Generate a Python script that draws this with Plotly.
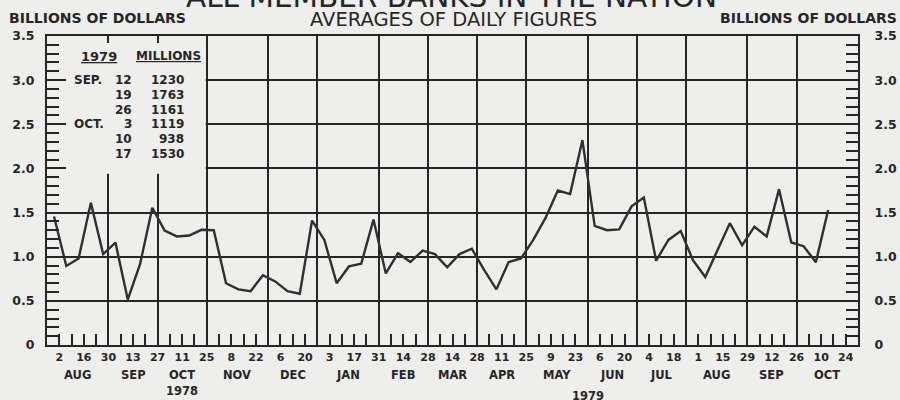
import pandas as pd
import plotly.graph_objects as go

# ---------------- data ----------------
# weekly statement dates (week ending Wednesday)
week_ending = pd.date_range("1978-08-02", "1979-10-17", freq="7D")
values = [
    1.455, 0.895, 0.98, 1.61, 1.03, 1.16, 0.515, 0.915, 1.555, 1.295,   # Aug 2 - Oct 4 1978
    1.23, 1.24, 1.305, 1.30, 0.70, 0.63, 0.61, 0.79, 0.72, 0.61,        # Oct 11 - Dec 13
    0.58, 1.41, 1.19, 0.70, 0.89, 0.92, 1.42, 0.81, 1.04, 0.94,         # Dec 20 - Feb 21 1979
    1.07, 1.03, 0.88, 1.03, 1.09, 0.85, 0.63, 0.94, 0.98, 1.19,         # Feb 28 - May 2
    1.44, 1.75, 1.71, 2.32, 1.35, 1.30, 1.31, 1.57, 1.67, 0.955,        # May 9 - Jul 11
    1.19, 1.29, 0.96, 0.77, 1.075, 1.38, 1.13, 1.34, 1.230, 1.763,      # Jul 18 - Sep 19
    1.161, 1.119, 0.938, 1.530,                                         # Sep 26 - Oct 17
]

# axis ticks (Wednesdays), labelled every two weeks
tick_dates = pd.date_range("1978-08-02", "1979-10-24", freq="7D")
day_labels = ["2", "16", "30", "13", "27", "11", "25", "8", "22", "6", "20", "3", "17", "31",
              "14", "28", "14", "28", "11", "25", "9", "23", "6", "20", "4", "18", "1", "15",
              "29", "12", "26", "10", "24"]
# month blocks end on the last Wednesday of each month
month_bounds = ["1978-07-26", "1978-08-30", "1978-09-27", "1978-10-25", "1978-11-29",
                "1978-12-27", "1979-01-31", "1979-02-28", "1979-03-28", "1979-04-25",
                "1979-05-30", "1979-06-27", "1979-07-25", "1979-08-29", "1979-09-26",
                "1979-10-31"]
month_names = ["AUG", "SEP", "OCT", "NOV", "DEC", "JAN", "FEB", "MAR", "APR", "MAY",
               "JUN", "JUL", "AUG", "SEP", "OCT"]
years = ["1978", "1979"]
year_dates = ["1978-10-11", "1979-05-30"]

y_ticks = [0, 0.5, 1.0, 1.5, 2.0, 2.5, 3.0, 3.5]
y_labels = ["0", "0.5", "1.0", "1.5", "2.0", "2.5", "3.0", "3.5"]

legend_months = ["SEP.", "", "", "OCT.", "", ""]
legend_days = ["12", "19", "26", "3", "10", "17"]
legend_millions = ["1230", "1763", "1161", "1119", "938", "1530"]

# ---------------- styling ----------------
BG = "#eeeeec"
INK = "#262626"
FONT = "DejaVu Sans"

mb = pd.to_datetime(month_bounds)
grid_dates = mb[1:-1]
month_centers = [mb[i] + (mb[i + 1] - mb[i]) / 2 for i in range(len(month_names))]
plot_x = week_ending - pd.Timedelta(days=3)   # points plotted at mid-week

tick_text = []
for i in range(len(tick_dates)):
    tick_text.append(day_labels[i // 2] if i % 2 == 0 else "")

xr = [mb[0], mb[-1]]

fig = go.Figure()
fig.add_trace(go.Scatter(x=plot_x, y=values, mode="lines",
                         line=dict(color="#303030", width=2.4), hoverinfo="skip",
                         showlegend=False))
# empty trace so the overlaid tick axes (x2 / y2) get drawn
fig.add_trace(go.Scatter(x=[], y=[], xaxis="x2", yaxis="y2", showlegend=False,
                         hoverinfo="skip"))

small = dict(family=FONT, size=11, color=INK, weight="bold")

fig.update_layout(
    width=900, height=400,
    margin=dict(l=47, r=42, t=36, b=55, autoexpand=False),
    paper_bgcolor=BG, plot_bgcolor=BG,
    font=dict(family=FONT, color=INK),
    xaxis=dict(type="date", range=xr, tickmode="array", tickvals=grid_dates,
               showticklabels=False, ticks="", showgrid=True, gridcolor=INK, gridwidth=1.8,
               showline=True, linecolor=INK, linewidth=2, mirror=True, zeroline=False,
               automargin=False),
    xaxis2=dict(type="date", range=xr, overlaying="x", anchor="y", side="bottom",
                tickmode="array", tickvals=tick_dates, ticktext=tick_text,
                ticks="inside", ticklen=11, tickwidth=1.6, tickcolor=INK,
                ticklabelstandoff=4, automargin=False,
                showgrid=False, showline=False, zeroline=False, tickfont=small),
    yaxis=dict(range=[0, 3.5], tickmode="array", tickvals=y_ticks, ticktext=y_labels,
               ticks="inside", ticklen=19, tickwidth=1.8, tickcolor=INK,
               minor=dict(dtick=0.1, tick0=0, ticks="inside", ticklen=12, tickwidth=1.6,
                          tickcolor=INK, showgrid=False),
               showgrid=True, gridcolor=INK, gridwidth=1.8, zeroline=False,
               showline=True, linecolor=INK, linewidth=2, ticklabelstandoff=8,
               automargin=False,
               tickfont=dict(family=FONT, size=12.5, color=INK, weight="bold")),
    yaxis2=dict(range=[0, 3.5], overlaying="y", side="right", anchor="x2",
                tickmode="array", tickvals=y_ticks, ticktext=y_labels,
                ticks="inside", ticklen=12, tickwidth=1.6, tickcolor=INK,
                minor=dict(dtick=0.1, tick0=0, ticks="inside", ticklen=12, tickwidth=1.6,
                           tickcolor=INK, showgrid=False),
                showgrid=False, zeroline=False, showline=True, linecolor=INK, linewidth=2,
                ticklabelstandoff=12, automargin=False,
                tickfont=dict(family=FONT, size=12.5, color=INK, weight="bold")),
)

# panel for the inset table (hides the grid behind it)
fig.add_shape(type="rect", xref="x", yref="y", x0=mb[0], x1=pd.Timestamp("1978-10-24 10:00"),
              y0=1.94, y1=3.42, fillcolor=BG, line=dict(width=0), layer="between")

ann = []
# titles
ann.append(dict(text="ALL MEMBER BANKS IN THE NATION", xref="paper", yref="paper",
                x=(451 - 47) / 811, y=(345 + 3) / 309, xanchor="center", yanchor="middle",
                showarrow=False, font=dict(family=FONT, size=29.5, color=INK)))
ann.append(dict(text="AVERAGES OF DAILY FIGURES", xref="paper", yref="paper",
                x=(453 - 47) / 811, y=(345 - 19) / 309, xanchor="center", yanchor="middle",
                showarrow=False, font=dict(family=FONT, size=19.5, color=INK)))
ann.append(dict(text="BILLIONS OF DOLLARS", xref="paper", yref="paper",
                x=(7 - 47) / 811, y=(345 - 18) / 309, xanchor="left", yanchor="middle",
                showarrow=False, font=dict(family=FONT, size=14, color=INK, weight="bold")))
ann.append(dict(text="BILLIONS OF DOLLARS", xref="paper", yref="paper",
                x=(899 - 47) / 811, y=(345 - 18) / 309, xanchor="right", yanchor="middle",
                showarrow=False, font=dict(family=FONT, size=14, color=INK, weight="bold")))
# month names and years
for name, c in zip(month_names, month_centers):
    ann.append(dict(text=name, xref="x", yref="paper", x=c, y=(345 - 375) / 309,
                    xanchor="center", yanchor="middle", showarrow=False,
                    font=dict(family=FONT, size=11.5, color=INK, weight="bold")))
for yr, d, ypx in zip(years, year_dates, [391, 396]):
    ann.append(dict(text=yr, xref="x", yref="paper", x=d, y=(345 - ypx) / 309,
                    xanchor="center", yanchor="middle", showarrow=False,
                    font=dict(family=FONT, size=11.5, color=INK, weight="bold")))
# inset table
tfont = dict(family=FONT, size=12, color=INK, weight="bold")
ann.append(dict(text="<u>1979</u>", xref="paper", yref="y", x=(99 - 47) / 811, y=3.27,
                xanchor="center", yanchor="middle", showarrow=False,
                font=dict(family=FONT, size=13, color=INK, weight="bold")))
ann.append(dict(text="<u>MILLIONS</u>", xref="paper", yref="y", x=(168 - 47) / 811, y=3.27,
                xanchor="center", yanchor="middle", showarrow=False, font=tfont))
for i, (m, d, v) in enumerate(zip(legend_months, legend_days, legend_millions)):
    yy = 3.0 - i * (0.5 / 3)
    if m:
        ann.append(dict(text=m, xref="paper", yref="y", x=(72 - 47) / 811, y=yy,
                        xanchor="left", yanchor="middle", showarrow=False, font=tfont))
    ann.append(dict(text=d, xref="paper", yref="y", x=(134 - 47) / 811, y=yy,
                    xanchor="right", yanchor="middle", showarrow=False, font=tfont))
    ann.append(dict(text=v, xref="paper", yref="y", x=(186 - 47) / 811, y=yy,
                    xanchor="right", yanchor="middle", showarrow=False, font=tfont))

fig.update_layout(annotations=ann)
fig.write_html("out.html", config={"displayModeBar": False},
               post_script="document.body.style.margin='0';")
